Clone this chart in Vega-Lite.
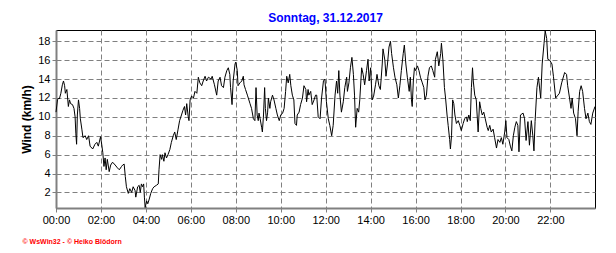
{
  "$schema": "https://vega.github.io/schema/vega-lite/v6.json",
  "width": 616,
  "height": 253,
  "autosize": {"type": "fit", "contains": "padding"},
  "padding": {"left": 20, "top": 12, "right": 19, "bottom": 9},
  "config": {
    "font": "Liberation Sans",
    "view": {"stroke": "#000000", "strokeWidth": 1}
  },
  "title": {
    "text": "Sonntag, 31.12.2017",
    "fontSize": 12,
    "fontWeight": "bold",
    "color": "#0000ff"
  },
  "data": {
    "values": [
      {"t":"2017-12-31 00:00","v":10.5},{"t":"2017-12-31 00:04","v":11.8},{"t":"2017-12-31 00:07","v":12.0},{"t":"2017-12-31 00:09","v":11.9},{"t":"2017-12-31 00:13","v":12.5},
      {"t":"2017-12-31 00:17","v":13.4},{"t":"2017-12-31 00:20","v":13.8},{"t":"2017-12-31 00:23","v":13.3},{"t":"2017-12-31 00:25","v":12.5},{"t":"2017-12-31 00:29","v":12.9},
      {"t":"2017-12-31 00:33","v":11.1},{"t":"2017-12-31 00:36","v":11.8},{"t":"2017-12-31 00:39","v":11.4},{"t":"2017-12-31 00:44","v":11.3},{"t":"2017-12-31 00:48","v":10.9},
      {"t":"2017-12-31 00:51","v":10.0},{"t":"2017-12-31 00:53","v":8.2},{"t":"2017-12-31 00:55","v":7.1},{"t":"2017-12-31 00:57","v":10.2},{"t":"2017-12-31 01:00","v":11.8},
      {"t":"2017-12-31 01:03","v":10.9},{"t":"2017-12-31 01:05","v":9.8},{"t":"2017-12-31 01:09","v":8.7},{"t":"2017-12-31 01:12","v":7.8},{"t":"2017-12-31 01:18","v":8.0},
      {"t":"2017-12-31 01:22","v":7.6},{"t":"2017-12-31 01:27","v":8.0},{"t":"2017-12-31 01:31","v":6.9},{"t":"2017-12-31 01:38","v":6.6},{"t":"2017-12-31 01:44","v":7.1},
      {"t":"2017-12-31 01:49","v":7.3},{"t":"2017-12-31 01:53","v":6.9},{"t":"2017-12-31 01:59","v":7.9},{"t":"2017-12-31 02:02","v":7.1},{"t":"2017-12-31 02:05","v":6.2},
      {"t":"2017-12-31 02:08","v":4.75},{"t":"2017-12-31 02:11","v":5.65},{"t":"2017-12-31 02:14","v":4.4},{"t":"2017-12-31 02:17","v":5.5},{"t":"2017-12-31 02:22","v":4.2},
      {"t":"2017-12-31 02:26","v":4.9},{"t":"2017-12-31 02:31","v":5.2},{"t":"2017-12-31 02:38","v":4.9},{"t":"2017-12-31 02:44","v":4.6},{"t":"2017-12-31 02:49","v":4.4},
      {"t":"2017-12-31 02:55","v":4.75},{"t":"2017-12-31 02:58","v":4.9},{"t":"2017-12-31 03:02","v":5.0},{"t":"2017-12-31 03:05","v":3.7},{"t":"2017-12-31 03:08","v":2.6},
      {"t":"2017-12-31 03:13","v":1.9},{"t":"2017-12-31 03:17","v":2.4},{"t":"2017-12-31 03:22","v":2.0},{"t":"2017-12-31 03:26","v":2.6},{"t":"2017-12-31 03:31","v":2.2},
      {"t":"2017-12-31 03:33","v":1.5},{"t":"2017-12-31 03:38","v":2.6},{"t":"2017-12-31 03:42","v":2.75},{"t":"2017-12-31 03:45","v":2.0},{"t":"2017-12-31 03:48","v":2.9},
      {"t":"2017-12-31 03:51","v":2.6},{"t":"2017-12-31 03:54","v":2.9},{"t":"2017-12-31 03:56","v":1.5},{"t":"2017-12-31 03:58","v":0.4},{"t":"2017-12-31 04:02","v":1.1},
      {"t":"2017-12-31 04:05","v":0.8},{"t":"2017-12-31 04:09","v":1.3},{"t":"2017-12-31 04:13","v":1.9},{"t":"2017-12-31 04:18","v":2.4},{"t":"2017-12-31 04:22","v":2.6},
      {"t":"2017-12-31 04:28","v":2.75},{"t":"2017-12-31 04:33","v":2.9},{"t":"2017-12-31 04:35","v":4.4},{"t":"2017-12-31 04:38","v":6.0},{"t":"2017-12-31 04:42","v":5.5},
      {"t":"2017-12-31 04:44","v":6.0},{"t":"2017-12-31 04:48","v":5.3},{"t":"2017-12-31 04:51","v":6.2},{"t":"2017-12-31 04:55","v":5.65},{"t":"2017-12-31 04:59","v":6.0},
      {"t":"2017-12-31 05:04","v":6.55},{"t":"2017-12-31 05:08","v":7.3},{"t":"2017-12-31 05:13","v":8.0},{"t":"2017-12-31 05:17","v":8.4},{"t":"2017-12-31 05:21","v":7.6},
      {"t":"2017-12-31 05:26","v":8.7},{"t":"2017-12-31 05:30","v":9.6},{"t":"2017-12-31 05:35","v":10.2},{"t":"2017-12-31 05:39","v":10.7},{"t":"2017-12-31 05:43","v":11.1},
      {"t":"2017-12-31 05:46","v":10.2},{"t":"2017-12-31 05:49","v":11.4},{"t":"2017-12-31 05:53","v":10.0},{"t":"2017-12-31 05:55","v":9.6},{"t":"2017-12-31 05:58","v":11.8},
      {"t":"2017-12-31 06:02","v":12.2},{"t":"2017-12-31 06:07","v":12.0},{"t":"2017-12-31 06:11","v":12.7},{"t":"2017-12-31 06:16","v":12.5},{"t":"2017-12-31 06:20","v":14.2},
      {"t":"2017-12-31 06:24","v":13.6},{"t":"2017-12-31 06:29","v":13.3},{"t":"2017-12-31 06:33","v":13.8},{"t":"2017-12-31 06:38","v":14.3},{"t":"2017-12-31 06:42","v":13.8},
      {"t":"2017-12-31 06:47","v":14.2},{"t":"2017-12-31 06:54","v":14.0},{"t":"2017-12-31 06:57","v":14.3},{"t":"2017-12-31 07:03","v":13.4},{"t":"2017-12-31 07:09","v":12.3},
      {"t":"2017-12-31 07:13","v":13.8},{"t":"2017-12-31 07:18","v":14.2},{"t":"2017-12-31 07:22","v":13.3},{"t":"2017-12-31 07:27","v":13.1},{"t":"2017-12-31 07:31","v":14.2},
      {"t":"2017-12-31 07:36","v":14.9},{"t":"2017-12-31 07:40","v":15.2},{"t":"2017-12-31 07:44","v":14.5},{"t":"2017-12-31 07:46","v":13.1},{"t":"2017-12-31 07:50","v":11.3},
      {"t":"2017-12-31 07:53","v":13.8},{"t":"2017-12-31 07:58","v":15.6},{"t":"2017-12-31 08:00","v":15.8},{"t":"2017-12-31 08:04","v":14.9},{"t":"2017-12-31 08:06","v":13.3},
      {"t":"2017-12-31 08:11","v":13.6},{"t":"2017-12-31 08:16","v":13.8},{"t":"2017-12-31 08:20","v":14.3},{"t":"2017-12-31 08:22","v":13.4},{"t":"2017-12-31 08:26","v":12.9},
      {"t":"2017-12-31 08:31","v":12.3},{"t":"2017-12-31 08:38","v":11.4},{"t":"2017-12-31 08:42","v":10.9},{"t":"2017-12-31 08:47","v":9.8},{"t":"2017-12-31 08:51","v":9.6},
      {"t":"2017-12-31 08:54","v":13.1},{"t":"2017-12-31 08:57","v":10.2},{"t":"2017-12-31 09:00","v":9.6},{"t":"2017-12-31 09:02","v":10.4},{"t":"2017-12-31 09:05","v":9.8},
      {"t":"2017-12-31 09:09","v":8.9},{"t":"2017-12-31 09:11","v":8.4},{"t":"2017-12-31 09:14","v":10.2},{"t":"2017-12-31 09:17","v":13.1},{"t":"2017-12-31 09:19","v":10.9},
      {"t":"2017-12-31 09:22","v":9.6},{"t":"2017-12-31 09:25","v":10.5},{"t":"2017-12-31 09:27","v":12.0},{"t":"2017-12-31 09:31","v":10.9},{"t":"2017-12-31 09:33","v":11.6},
      {"t":"2017-12-31 09:38","v":12.3},{"t":"2017-12-31 09:42","v":11.8},{"t":"2017-12-31 09:47","v":10.9},{"t":"2017-12-31 09:51","v":10.2},{"t":"2017-12-31 09:56","v":9.6},
      {"t":"2017-12-31 10:00","v":10.2},{"t":"2017-12-31 10:05","v":10.4},{"t":"2017-12-31 10:09","v":10.9},{"t":"2017-12-31 10:13","v":12.7},{"t":"2017-12-31 10:16","v":14.3},
      {"t":"2017-12-31 10:20","v":13.6},{"t":"2017-12-31 10:24","v":14.5},{"t":"2017-12-31 10:27","v":13.3},{"t":"2017-12-31 10:31","v":12.3},{"t":"2017-12-31 10:35","v":11.8},
      {"t":"2017-12-31 10:38","v":9.3},{"t":"2017-12-31 10:42","v":9.1},{"t":"2017-12-31 10:44","v":10.2},{"t":"2017-12-31 10:49","v":10.5},{"t":"2017-12-31 10:53","v":11.3},
      {"t":"2017-12-31 10:58","v":12.0},{"t":"2017-12-31 11:02","v":13.3},{"t":"2017-12-31 11:07","v":12.9},{"t":"2017-12-31 11:09","v":11.6},{"t":"2017-12-31 11:13","v":12.9},
      {"t":"2017-12-31 11:15","v":12.3},{"t":"2017-12-31 11:20","v":12.7},{"t":"2017-12-31 11:24","v":11.3},{"t":"2017-12-31 11:29","v":11.8},{"t":"2017-12-31 11:33","v":12.3},
      {"t":"2017-12-31 11:36","v":12.3},{"t":"2017-12-31 11:40","v":10.0},{"t":"2017-12-31 11:45","v":9.8},{"t":"2017-12-31 11:49","v":12.0},{"t":"2017-12-31 11:54","v":13.8},
      {"t":"2017-12-31 11:58","v":14.0},{"t":"2017-12-31 12:02","v":11.6},{"t":"2017-12-31 12:07","v":9.8},{"t":"2017-12-31 12:11","v":9.1},{"t":"2017-12-31 12:16","v":8.0},
      {"t":"2017-12-31 12:20","v":9.1},{"t":"2017-12-31 12:25","v":12.3},{"t":"2017-12-31 12:29","v":13.8},{"t":"2017-12-31 12:32","v":12.5},{"t":"2017-12-31 12:35","v":14.9},
      {"t":"2017-12-31 12:38","v":12.3},{"t":"2017-12-31 12:42","v":10.5},{"t":"2017-12-31 12:47","v":11.6},{"t":"2017-12-31 12:51","v":13.1},{"t":"2017-12-31 12:56","v":14.2},
      {"t":"2017-12-31 12:58","v":12.7},{"t":"2017-12-31 13:02","v":13.6},{"t":"2017-12-31 13:06","v":15.2},{"t":"2017-12-31 13:10","v":16.3},{"t":"2017-12-31 13:14","v":14.5},
      {"t":"2017-12-31 13:17","v":12.3},{"t":"2017-12-31 13:20","v":8.9},{"t":"2017-12-31 13:24","v":10.9},{"t":"2017-12-31 13:28","v":10.5},{"t":"2017-12-31 13:31","v":11.8},
      {"t":"2017-12-31 13:36","v":15.2},{"t":"2017-12-31 13:40","v":14.5},{"t":"2017-12-31 13:44","v":13.4},{"t":"2017-12-31 13:49","v":14.9},{"t":"2017-12-31 13:53","v":16.1},
      {"t":"2017-12-31 13:56","v":13.8},{"t":"2017-12-31 14:00","v":15.2},{"t":"2017-12-31 14:04","v":11.8},{"t":"2017-12-31 14:08","v":12.2},{"t":"2017-12-31 14:13","v":13.4},
      {"t":"2017-12-31 14:17","v":14.5},{"t":"2017-12-31 14:22","v":13.3},{"t":"2017-12-31 14:26","v":12.9},{"t":"2017-12-31 14:31","v":15.6},{"t":"2017-12-31 14:33","v":17.2},
      {"t":"2017-12-31 14:38","v":16.0},{"t":"2017-12-31 14:41","v":14.3},{"t":"2017-12-31 14:45","v":15.6},{"t":"2017-12-31 14:49","v":17.4},{"t":"2017-12-31 14:53","v":18.0},
      {"t":"2017-12-31 14:56","v":16.7},{"t":"2017-12-31 15:01","v":15.2},{"t":"2017-12-31 15:05","v":14.2},{"t":"2017-12-31 15:10","v":13.4},{"t":"2017-12-31 15:14","v":12.0},
      {"t":"2017-12-31 15:18","v":13.3},{"t":"2017-12-31 15:22","v":14.9},{"t":"2017-12-31 15:27","v":16.7},{"t":"2017-12-31 15:30","v":17.6},{"t":"2017-12-31 15:34","v":15.6},
      {"t":"2017-12-31 15:38","v":14.2},{"t":"2017-12-31 15:43","v":12.7},{"t":"2017-12-31 15:46","v":14.2},{"t":"2017-12-31 15:49","v":11.8},{"t":"2017-12-31 15:51","v":11.1},
      {"t":"2017-12-31 15:54","v":13.8},{"t":"2017-12-31 15:57","v":15.2},{"t":"2017-12-31 16:00","v":14.9},{"t":"2017-12-31 16:05","v":15.4},{"t":"2017-12-31 16:09","v":14.9},
      {"t":"2017-12-31 16:13","v":14.2},{"t":"2017-12-31 16:18","v":13.6},{"t":"2017-12-31 16:22","v":13.1},{"t":"2017-12-31 16:25","v":11.8},{"t":"2017-12-31 16:29","v":12.3},
      {"t":"2017-12-31 16:33","v":14.3},{"t":"2017-12-31 16:37","v":15.2},{"t":"2017-12-31 16:42","v":15.4},{"t":"2017-12-31 16:46","v":14.9},{"t":"2017-12-31 16:51","v":14.2},
      {"t":"2017-12-31 16:53","v":16.1},{"t":"2017-12-31 16:58","v":16.9},{"t":"2017-12-31 17:02","v":15.4},{"t":"2017-12-31 17:07","v":16.7},{"t":"2017-12-31 17:09","v":17.8},
      {"t":"2017-12-31 17:13","v":16.0},{"t":"2017-12-31 17:17","v":13.1},{"t":"2017-12-31 17:20","v":12.0},{"t":"2017-12-31 17:24","v":10.2},{"t":"2017-12-31 17:27","v":9.1},
      {"t":"2017-12-31 17:31","v":7.6},{"t":"2017-12-31 17:33","v":6.6},{"t":"2017-12-31 17:36","v":8.0},{"t":"2017-12-31 17:39","v":11.8},{"t":"2017-12-31 17:42","v":11.4},
      {"t":"2017-12-31 17:45","v":10.2},{"t":"2017-12-31 17:49","v":9.3},{"t":"2017-12-31 17:54","v":9.6},{"t":"2017-12-31 17:58","v":9.1},{"t":"2017-12-31 18:02","v":8.55},
      {"t":"2017-12-31 18:07","v":9.3},{"t":"2017-12-31 18:11","v":9.8},{"t":"2017-12-31 18:16","v":10.0},{"t":"2017-12-31 18:18","v":9.5},{"t":"2017-12-31 18:22","v":10.2},
      {"t":"2017-12-31 18:26","v":9.6},{"t":"2017-12-31 18:29","v":13.1},{"t":"2017-12-31 18:32","v":15.2},{"t":"2017-12-31 18:34","v":13.8},{"t":"2017-12-31 18:38","v":12.3},
      {"t":"2017-12-31 18:42","v":11.8},{"t":"2017-12-31 18:47","v":8.4},{"t":"2017-12-31 18:51","v":11.6},{"t":"2017-12-31 18:54","v":10.9},{"t":"2017-12-31 18:58","v":10.2},
      {"t":"2017-12-31 19:02","v":10.5},{"t":"2017-12-31 19:06","v":9.8},{"t":"2017-12-31 19:11","v":8.9},{"t":"2017-12-31 19:14","v":8.55},{"t":"2017-12-31 19:18","v":9.1},
      {"t":"2017-12-31 19:22","v":8.4},{"t":"2017-12-31 19:27","v":8.7},{"t":"2017-12-31 19:31","v":7.8},{"t":"2017-12-31 19:36","v":6.7},{"t":"2017-12-31 19:40","v":7.6},
      {"t":"2017-12-31 19:45","v":7.3},{"t":"2017-12-31 19:49","v":7.8},{"t":"2017-12-31 19:53","v":7.1},{"t":"2017-12-31 19:58","v":8.4},{"t":"2017-12-31 20:01","v":9.6},
      {"t":"2017-12-31 20:04","v":7.8},{"t":"2017-12-31 20:09","v":7.6},{"t":"2017-12-31 20:13","v":6.9},{"t":"2017-12-31 20:17","v":6.4},{"t":"2017-12-31 20:21","v":8.0},
      {"t":"2017-12-31 20:25","v":8.9},{"t":"2017-12-31 20:29","v":9.5},{"t":"2017-12-31 20:33","v":9.1},{"t":"2017-12-31 20:36","v":6.3},{"t":"2017-12-31 20:40","v":10.2},
      {"t":"2017-12-31 20:47","v":10.4},{"t":"2017-12-31 20:51","v":9.8},{"t":"2017-12-31 20:55","v":7.5},{"t":"2017-12-31 21:00","v":9.5},{"t":"2017-12-31 21:04","v":7.0},
      {"t":"2017-12-31 21:09","v":9.6},{"t":"2017-12-31 21:13","v":8.0},{"t":"2017-12-31 21:16","v":6.4},{"t":"2017-12-31 21:19","v":9.5},{"t":"2017-12-31 21:24","v":13.1},
      {"t":"2017-12-31 21:28","v":14.2},{"t":"2017-12-31 21:34","v":12.0},{"t":"2017-12-31 21:38","v":15.6},{"t":"2017-12-31 21:43","v":17.8},{"t":"2017-12-31 21:46","v":19.1},
      {"t":"2017-12-31 21:50","v":18.3},{"t":"2017-12-31 21:53","v":16.1},{"t":"2017-12-31 21:58","v":16.0},{"t":"2017-12-31 22:04","v":15.6},{"t":"2017-12-31 22:08","v":14.3},
      {"t":"2017-12-31 22:14","v":12.0},{"t":"2017-12-31 22:20","v":12.3},{"t":"2017-12-31 22:24","v":12.5},{"t":"2017-12-31 22:30","v":13.6},{"t":"2017-12-31 22:38","v":14.7},
      {"t":"2017-12-31 22:43","v":14.5},{"t":"2017-12-31 22:46","v":13.3},{"t":"2017-12-31 22:51","v":12.0},{"t":"2017-12-31 22:55","v":10.9},{"t":"2017-12-31 22:58","v":12.0},
      {"t":"2017-12-31 23:02","v":10.4},{"t":"2017-12-31 23:07","v":9.8},{"t":"2017-12-31 23:11","v":8.0},{"t":"2017-12-31 23:14","v":10.6},{"t":"2017-12-31 23:18","v":12.7},
      {"t":"2017-12-31 23:22","v":13.3},{"t":"2017-12-31 23:26","v":12.7},{"t":"2017-12-31 23:31","v":10.9},{"t":"2017-12-31 23:35","v":9.8},{"t":"2017-12-31 23:40","v":10.4},
      {"t":"2017-12-31 23:44","v":9.5},{"t":"2017-12-31 23:48","v":9.2},{"t":"2017-12-31 23:53","v":10.4},{"t":"2017-12-31 23:59","v":11.1}
    ]
  },
  "mark": {"type": "line", "color": "#000000", "strokeWidth": 1},
  "encoding": {
    "x": {
      "field": "t",
      "type": "temporal",
      "axis": {
        "title": "© WsWin32  -  © Heiko Blödorn",
        "titleFontSize": 7,
        "titleFontWeight": "bold",
        "titleColor": "#ff0000",
        "titleAnchor": "start",
        "titleAlign": "left",
        "titleBaseline": "middle",
        "titleX": -34,
        "titleY": 33,
        "values": [
          {"year": 2017, "month": 12, "date": 31, "hours": 0},
          {"year": 2017, "month": 12, "date": 31, "hours": 2},
          {"year": 2017, "month": 12, "date": 31, "hours": 4},
          {"year": 2017, "month": 12, "date": 31, "hours": 6},
          {"year": 2017, "month": 12, "date": 31, "hours": 8},
          {"year": 2017, "month": 12, "date": 31, "hours": 10},
          {"year": 2017, "month": 12, "date": 31, "hours": 12},
          {"year": 2017, "month": 12, "date": 31, "hours": 14},
          {"year": 2017, "month": 12, "date": 31, "hours": 16},
          {"year": 2017, "month": 12, "date": 31, "hours": 18},
          {"year": 2017, "month": 12, "date": 31, "hours": 20},
          {"year": 2017, "month": 12, "date": 31, "hours": 22}
        ],
        "format": "%H:%M",
        "labelFlush": false,
        "labelFontSize": 11,
        "labelColor": "#000000",
        "domainColor": "#808080",
        "domainWidth": 2,
        "tickColor": "#808080",
        "tickSize": 4,
        "gridColor": "#808080",
        "gridDash": [5, 3]
      }
    },
    "y": {
      "field": "v",
      "type": "quantitative",
      "scale": {"domain": [0.35, 19.2], "nice": false, "zero": false},
      "axis": {
        "title": "Wind (km/h)",
        "titleFontSize": 12,
        "titleFontWeight": "bold",
        "titleColor": "#000000",
        "values": [2, 4, 6, 8, 10, 12, 14, 16, 18],
        "labelFontSize": 11,
        "labelColor": "#000000",
        "domainColor": "#808080",
        "domainWidth": 2,
        "tickColor": "#808080",
        "tickSize": 4,
        "gridColor": "#808080",
        "gridDash": [5, 3]
      }
    }
  }
}
